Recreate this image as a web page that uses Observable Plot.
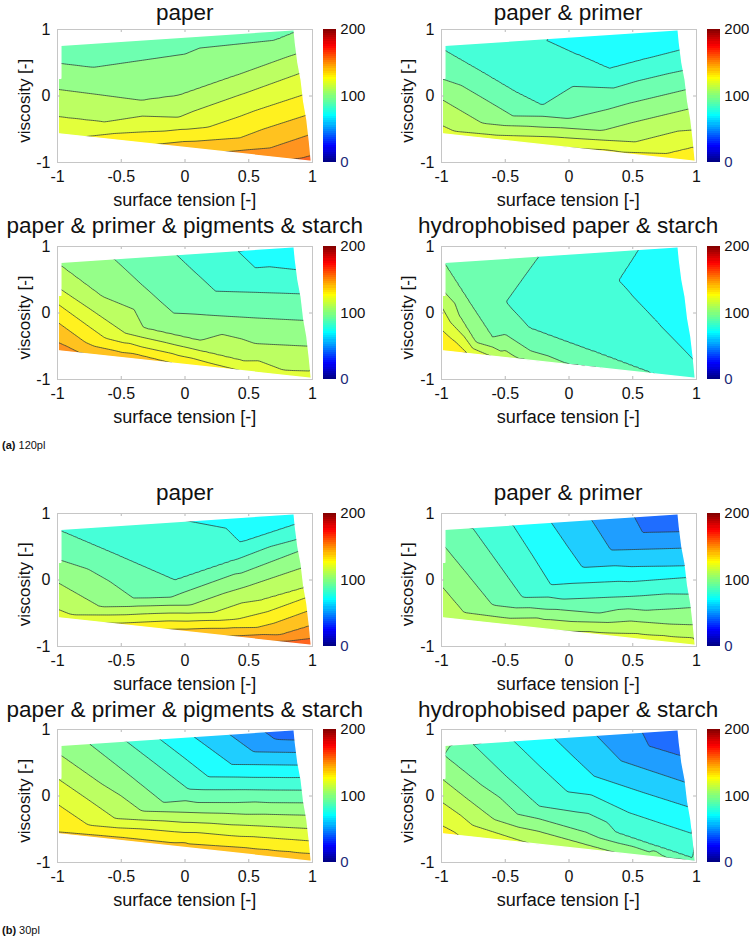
<!DOCTYPE html>
<html><head><meta charset="utf-8">
<script src="https://cdn.jsdelivr.net/npm/d3@7"></script>
<script src="https://cdn.jsdelivr.net/npm/@observablehq/plot@0.6"></script>
<style>
body{margin:0;background:#fff;font-family:"Liberation Sans",Arial,sans-serif}
#fig{position:relative;width:749px;height:936px;overflow:hidden;background:#fff}
#fig svg{position:absolute;overflow:visible}
</style></head><body><div id="fig"></div>
<script>
// ---------------- data ----------------
const xTicks = [-1, -0.5, 0, 0.5, 1];
const yTicks = [-1, 0, 1];
const cbTicks = [0, 100, 200];
const titles = ["paper", "paper & primer", "paper & primer & pigments & starch", "hydrophobised paper & starch"];
const xLabel = "surface tension [-]";
const yLabel = "viscosity [-]";
const captions = [["(a)", " 120pl"], ["(b)", " 30pl"]];
const fillLevels = [0,10,20,30,40,50,60,70,80,90,100,110,120,130,140,150,160,170,180,190,200];
// colour bar: navy, blue, cyan, yellow, red, dark red
const cmapStops = [0, 24, 70, 127, 175, 200];
const cmapColors = ["#00007f", "#0000ff", "#00ffff", "#ffff00", "#ff0000", "#7f0000"];

// boundary of the measured region (surface tension, viscosity)
const hullTop = [[-0.97, 0.755], [0.86, 0.99]];
const hullBottom = [[-0.99, -0.575], [0.995, -0.99]];
const hullLeft = [[-0.99, -0.575], [-0.99, 0.26], [-0.97, 0.26], [-0.97, 0.755]];
const hullRight = [[0.86, 0.99], [0.87, 0.79], [0.89, 0.49], [0.915, 0.24], [0.935, -0.09], [0.96, -0.36], [0.98, -0.69], [0.995, -0.99]];

// contour lines [level, [[surface tension, viscosity], ...]] and boundary / interior values [x, y, value]
const a1Lines = [
  [100, [[-0.98,0.49],[-0.72,0.43],[0,0.63],[0.71,0.84],[0.87,0.965]]],
  [110, [[-1.0,0.10],[-0.34,-0.065],[-0.05,0.01],[0.4,0.31],[0.885,0.64]]],
  [120, [[-1.0,-0.31],[-0.63,-0.39],[-0.05,-0.32],[0.42,0.01],[0.9,0.34]]],
  [130, [[-0.85,-0.625],[-0.33,-0.54],[0.18,-0.47],[0.55,-0.22],[0.915,0.01]]],
  [140, [[-0.27,-0.735],[0.08,-0.68],[0.43,-0.63],[0.95,-0.29]]],
  [150, [[0.29,-0.845],[0.48,-0.81],[0.67,-0.78],[0.965,-0.59]]],
  [160, [[0.81,-0.96],[0.9,-0.94],[1.0,-0.89]]]
];
const a1Edge = [[-0.98,0.76,94],[0,0.885,96],[0.86,1.0,99.5],[-1.0,-0.58,128],[-0.5,-0.685,137],[0,-0.785,145.5],[0.5,-0.89,154],[1.0,-1.0,164]];

const a2Lines = [
  [80, [[-0.195,0.855],[0.06,0.63],[0.315,0.414],[0.6,0.56],[0.885,0.70]]],
  [90, [[-0.98,0.69],[-0.69,0.37],[-0.42,0.063],[-0.21,-0.14],[0.35,0.12],[0.91,0.39]]],
  [100, [[-1.0,0.26],[-0.44,-0.30],[0,-0.34],[0.47,-0.11],[0.95,0.11]]],
  [110, [[-1.0,-0.05],[-0.68,-0.41],[-0.2,-0.47],[0.26,-0.52],[0.95,-0.19]]],
  [120, [[-1.0,-0.44],[-0.9,-0.53],[-0.2,-0.61],[0.52,-0.69],[0.98,-0.51]]],
  [130, [[-0.17,-0.755],[0.3,-0.81],[0.76,-0.865],[0.99,-0.76]]]
];
const a2Edge = [[-0.98,0.76,89.5],[-0.6,0.805,85],[0.3,0.925,73],[0.86,1.0,72],[0.88,0.79,77],[-1.0,-0.58,124],[-0.6,-0.662,125],[0.4,-0.875,132],[1.0,-1.0,136],[0.5,0.75,75]];

const a3Lines = [
  [80, [[0.406,0.945],[0.551,0.679],[0.885,0.649]]],
  [90, [[-0.077,0.895],[0.08,0.61],[0.237,0.328],[0.57,0.31],[0.92,0.288]]],
  [100, [[-0.561,0.82],[-0.33,0.41],[-0.09,-0.003],[0.17,-0.03],[0.43,-0.06],[0.95,-0.113]]],
  [110, [[-0.975,0.714],[-0.65,0.25],[-0.325,-0.223],[-0.1,-0.32],[0.119,-0.414],[0.55,-0.46],[0.965,-0.499]]],
  [120, [[-1.0,0.388],[-0.73,0.04],[-0.469,-0.303],[-0.16,-0.44],[0.15,-0.58],[0.46,-0.72],[0.773,-0.86],[0.98,-0.875]]],
  [130, [[-1.0,0.138],[-0.626,-0.378],[-0.34,-0.51],[-0.05,-0.64],[0.24,-0.775],[0.525,-0.91]]],
  [140, [[-1.0,-0.138],[-0.783,-0.439],[-0.40,-0.61],[-0.038,-0.78]]],
  [150, [[-1.0,-0.439],[-0.913,-0.514],[-0.8,-0.62]]]
];
const a3Edge = [[-0.98,0.76,108],[-0.3,0.845,95],[0.2,0.905,84],[0.86,1.0,74],[0.88,0.79,77],[0.7,0.85,76],[-1.0,-0.58,156],[-0.5,-0.68,146],[0.2,-0.83,135],[0.6,-0.925,128],[1.0,-1.0,125]];

const a4Lines = [
  [80, [[0.55,0.97],[0.47,0.73],[0.388,0.489],[0.53,0.19],[0.68,-0.115],[0.84,-0.44],[0.99,-0.739]]],
  [90, [[-0.234,0.855],[-0.365,0.51],[-0.495,0.163],[-0.312,-0.223],[-0.07,-0.395],[0.18,-0.57],[0.424,-0.745],[0.668,-0.92]]],
  [100, [[-0.975,0.739],[-0.79,0.19],[-0.6,-0.363],[-0.3,-0.57],[0.0,-0.774],[0.341,-0.858]]],
  [110, [[-1.0,0.363],[-0.86,-0.04],[-0.731,-0.439],[-0.365,-0.71]]],
  [120, [[-1.0,0.098],[-0.82,-0.36],[-0.6,-0.66]]],
  [130, [[-1.0,-0.238],[-0.887,-0.439],[-0.78,-0.625]]]
];
const a4Edge = [[-0.98,0.76,99],[-0.6,0.805,95],[0.15,0.9,85],[0.86,1.0,75],[0.92,0.24,77],[0.97,-0.36,79],[1.0,-1.0,82],[0.8,-0.955,87],[0.5,-0.89,95],[-0.2,-0.745,104],[-0.5,-0.682,115],[-1.0,-0.58,133],
  [-0.3,0.25,87.5],[0.05,0.3,85],[0.0,-0.2,87.5],[0.3,-0.3,86],[0.25,0.6,82.3],[0.7,0.4,78.3],[0.6,0.6,79],[0.7,0.2,79],[-0.65,0.5,95],[-0.5,-0.2,95]];

const b1Lines = [
  [80, [[0.001,0.895],[0.433,0.564],[0.87,0.84]]],
  [90, [[-0.975,0.739],[-0.52,0.367],[-0.077,-0.003],[0.4,0.306],[0.885,0.614]]],
  [100, [[-1.0,0.313],[-0.404,-0.273],[-0.116,-0.263],[0.39,0.09],[0.9,0.439]]],
  [110, [[-1.0,-0.038],[-0.665,-0.404],[-0.31,-0.39],[0.041,-0.379],[0.48,-0.10],[0.925,0.188]]],
  [120, [[-1.0,-0.439],[-0.888,-0.524],[-0.33,-0.51],[0.223,-0.489],[0.6,-0.30],[0.94,-0.113]]],
  [130, [[-0.665,-0.648],[-0.13,-0.615],[0.41,-0.589],[0.953,-0.263]]],
  [140, [[-0.22,-0.745],[0.17,-0.727],[0.563,-0.714],[0.966,-0.464]]],
  [150, [[0.354,-0.845],[0.746,-0.825],[0.98,-0.689]]],
  [160, [[0.66,-0.925],[0.825,-0.915],[0.98,-0.88]]]
];
const b1Edge = [[-0.98,0.76,89.5],[-0.5,0.825,85],[0.3,0.92,77],[0.86,1.0,76],[-1.0,-0.58,124],[-0.5,-0.685,133],[0,-0.787,144],[1.0,-1.0,166]];

const b2Lines = [
  [50, [[0.498,0.995],[0.576,0.714],[0.885,0.729]]],
  [60, [[0.171,0.92],[0.328,0.449],[0.61,0.464],[0.9,0.479]]],
  [70, [[-0.142,0.87],[-0.02,0.53],[0.106,0.188],[0.5,0.20],[0.913,0.213]]],
  [80, [[-0.443,0.835],[-0.29,0.38],[-0.142,-0.073],[0.39,-0.02],[0.926,0.038]]],
  [90, [[-0.757,0.785],[-0.56,0.26],[-0.365,-0.263],[-0.051,-0.288],[0.45,-0.25],[0.952,-0.213]]],
  [100, [[-0.98,0.514],[-0.79,0.07],[-0.6,-0.378],[-0.18,-0.44],[0.237,-0.499],[0.6,-0.456],[0.965,-0.414]]],
  [110, [[-1.0,-0.088],[-0.822,-0.489],[-0.25,-0.57],[0.315,-0.639],[0.979,-0.674]]],
  [120, [[-0.2,-0.75],[0.5,-0.8],[0.98,-0.87]]]
];
const b2Edge = [[-0.98,0.76,95],[0.0,0.885,66],[0.86,1.0,44],[0.88,0.79,47],[-1.0,-0.58,116],[-0.5,-0.685,117],[1.0,-1.0,123]];

const b3Lines = [
  [50, [[0.603,0.995],[0.707,0.85],[0.87,0.84]]],
  [60, [[0.354,0.92],[0.537,0.664],[0.885,0.654]]],
  [70, [[0.067,0.895],[0.367,0.474],[0.63,0.47],[0.9,0.464]]],
  [80, [[-0.208,0.87],[-0.01,0.58],[0.184,0.288],[0.55,0.28],[0.913,0.278]]],
  [90, [[-0.469,0.835],[-0.22,0.47],[0.027,0.103],[0.47,0.095],[0.7,0.09],[0.926,0.088]]],
  [100, [[-0.757,0.795],[-0.46,0.35],[-0.169,-0.098],[0.1,-0.099],[0.38,-0.10],[0.66,-0.10],[0.939,-0.103]]],
  [110, [[-0.975,0.614],[-0.66,0.19],[-0.339,-0.228],[-0.02,-0.244],[0.3,-0.26],[0.63,-0.274],[0.953,-0.288]]],
  [120, [[-1.0,0.263],[-0.77,-0.04],[-0.548,-0.338],[-0.17,-0.374],[0.2,-0.41],[0.58,-0.45],[0.965,-0.489]]],
  [130, [[-1.0,-0.123],[-0.757,-0.439],[-0.33,-0.495],[0.1,-0.55],[0.54,-0.612],[0.979,-0.674]]],
  [140, [[-1.0,-0.539],[-0.5,-0.62],[0,-0.70],[0.5,-0.78],[0.99,-0.865]]]
];
const b3Edge = [[-0.98,0.76,105],[0.86,1.0,44],[0.88,0.79,52],[-1.0,-0.58,143],[0,-0.787,144],[1.0,-1.0,144]];

const b4Lines = [
  [50, [[0.563,0.995],[0.627,0.749],[0.885,0.599]]],
  [60, [[0.197,0.945],[0.407,0.529],[0.67,0.36],[0.939,0.188]]],
  [70, [[-0.129,0.895],[0.03,0.6],[0.197,0.298],[0.57,0.06],[0.952,-0.173]]],
  [80, [[-0.443,0.845],[-0.23,0.45],[-0.012,0.063],[0.47,-0.25],[0.72,-0.41],[0.965,-0.564]]],
  [90, [[-0.757,0.785],[-0.5,0.31],[-0.234,-0.153],[0.37,-0.548],[0.67,-0.744],[0.975,-0.94]]],
  [100, [[-0.98,0.614],[-0.69,0.17],[-0.404,-0.273],[0.13,-0.543],[0.668,-0.815],[0.99,-0.978]]],
  [110, [[-1.0,0.263],[-0.8,-0.04],[-0.587,-0.353],[-0.24,-0.53],[0.106,-0.714],[0.395,-0.865]]],
  [120, [[-1.0,-0.088],[-0.757,-0.439],[-0.391,-0.664],[-0.3,-0.722]]],
  [130, [[-1.0,-0.439],[-0.9,-0.539],[-0.85,-0.607]]]
];
const b4Edge = [[-0.98,0.76,103],[0.86,1.0,43],[-1.0,-0.58,133],[1.0,-1.0,101],[0.6,-0.91,107]];

const panels = [
  {title: 0, col: 0, row: 0, lines: a1Lines, edge: a1Edge},
  {title: 1, col: 1, row: 0, lines: a2Lines, edge: a2Edge},
  {title: 2, col: 0, row: 1, lines: a3Lines, edge: a3Edge},
  {title: 3, col: 1, row: 1, lines: a4Lines, edge: a4Edge},
  {title: 0, col: 0, row: 2, lines: b1Lines, edge: b1Edge},
  {title: 1, col: 1, row: 2, lines: b2Lines, edge: b2Edge},
  {title: 2, col: 0, row: 3, lines: b3Lines, edge: b3Edge},
  {title: 3, col: 1, row: 3, lines: b4Lines, edge: b4Edge}
];

// ---------------- layout ----------------
const FONT = "'Liberation Sans', Arial, Helvetica, sans-serif";
const frameLeft = [57.3, 440.7];
const frameTop = [29.3, 246, 512.7, 729.3];
const frameW = 255, frameH = 133;
const cbGap = 11, cbW = 13.4;
const captionY = [449, 934];
const EPS = 1e-6;

const fillColors = cmapColors.map(c => d3.interpolateRgb(c, "#ffffff")(0.12));
const panelColor = {type: "linear", domain: cmapStops, range: fillColors, interpolate: "rgb"};
const barColor = {type: "linear", domain: cmapStops, range: cmapColors, interpolate: "rgb"};
const fig = d3.select("#fig");

function ext(a, b, x) { return a[1] + (b[1] - a[1]) * (x - a[0]) / (b[0] - a[0]); }
const topMask = [[-1.3, ext(hullTop[0], hullTop[1], -1.3)], [1.3, ext(hullTop[0], hullTop[1], 1.3)]];
const botMask = [[-1.3, ext(hullBottom[0], hullBottom[1], -1.3)], [1.3, ext(hullBottom[0], hullBottom[1], 1.3)]];
const leftMask = [[hullLeft[0][0], -1.3], ...hullLeft, [hullLeft[hullLeft.length - 1][0], 1.3]];
const rightMask = [[hullRight[0][0], 1.3], ...hullRight, [hullRight[hullRight.length - 1][0], -1.3]];
const maskStyle = {fill: "white", stroke: "white", strokeWidth: 1.4, clip: true};

const ML = 57, MT = 6, MR = 8, MB = 30;

for (const p of panels) {
  const pts = [];
  for (const [lev, line] of p.lines) for (const [x, y] of line) pts.push([x, y, lev]);
  for (const e of p.edge) pts.push(e);
  const fl = frameLeft[p.col], ft = frameTop[p.row];
  const chart = Plot.plot({
    width: ML + frameW + MR, height: MT + frameH + MB,
    marginLeft: ML, marginTop: MT, marginRight: MR, marginBottom: MB,
    style: {fontFamily: FONT, fontSize: "16px", background: "transparent", color: "#111"},
    x: {domain: [-1, 1], ticks: xTicks, tickFormat: d => String(d), tickSize: 0, tickPadding: 8.6, label: null},
    y: {domain: [-1, 1], ticks: yTicks, tickFormat: d => String(d), tickSize: 0, tickPadding: 7, label: null},
    color: panelColor,
    marks: [
      Plot.contour(pts, {x: d => d[0], y: d => d[1], fill: d => d[2], thresholds: fillLevels.map(t => t - EPS), interpolate: "barycentric", stroke: "none", clip: true}),
      Plot.contour(pts, {x: d => d[0], y: d => d[1], value: d => d[2], thresholds: p.lines.map(l => l[0] - EPS), interpolate: "barycentric", fill: "none", stroke: "#2b3838", strokeWidth: 0.75, clip: true}),
      Plot.areaY(topMask, {x: d => d[0], y1: d => d[1], y2: 1.3, ...maskStyle}),
      Plot.areaY(botMask, {x: d => d[0], y1: -1.3, y2: d => d[1], ...maskStyle}),
      Plot.areaX(leftMask, {y: d => d[1], x1: -1.3, x2: d => d[0], ...maskStyle}),
      Plot.areaX(rightMask, {y: d => d[1], x1: d => d[0], x2: 1.3, ...maskStyle}),
      Plot.ruleX(xTicks, {y1: -1, y2: -0.955, stroke: "#b8b8b8"}),
      Plot.ruleX(xTicks, {y1: 0.955, y2: 1, stroke: "#b8b8b8"}),
      Plot.ruleY(yTicks, {x1: -1, x2: -0.977, stroke: "#b8b8b8"}),
      Plot.ruleY(yTicks, {x1: 0.977, x2: 1, stroke: "#b8b8b8"}),
      Plot.frame({stroke: "#c6c6c6"})
    ]
  });
  d3.select(chart).style("left", (fl - ML) + "px").style("top", (ft - MT) + "px");
  fig.node().appendChild(chart);

  // colorbar
  const bands = d3.range(64);
  const cb = Plot.plot({
    width: cbW + 40, height: frameH + 12,
    marginTop: 6, marginBottom: 6, marginLeft: 0, marginRight: 40,
    style: {fontFamily: FONT, background: "transparent"},
    x: {domain: [0, 1], axis: null},
    y: {domain: [0, 200], axis: null},
    color: barColor,
    marks: [
      Plot.rect(bands, {x1: 0, x2: 1, y1: d => d * 200 / 64, y2: d => (d + 1) * 200 / 64, fill: d => (d + 0.5) * 200 / 64, shapeRendering: "crispEdges"}),
      Plot.text(cbTicks.filter(t => t > 0), {x: 1, y: d => d, text: d => String(d), textAnchor: "start", dx: 3.4, fontSize: 15, fill: "#111"}),
      Plot.text(cbTicks.filter(t => t === 0), {x: 1, y: d => d, text: d => String(d), textAnchor: "start", dx: 3.4, fontSize: 15, fill: "#1d2a78"})
    ]
  });
  d3.select(cb).style("left", (fl + frameW + cbGap) + "px").style("top", (ft - 6) + "px");
  fig.node().appendChild(cb);
}

// text overlay: titles, axis labels, captions
const ov = fig.append("svg").attr("width", 749).attr("height", 936)
  .style("left", "0px").style("top", "0px").style("pointer-events", "none")
  .style("font-family", FONT).attr("fill", "#111");
for (const p of panels) {
  const fl = frameLeft[p.col], ft = frameTop[p.row];
  const cx = fl + frameW / 2;
  ov.append("text").attr("x", cx).attr("y", Math.max(ft - 12.7, 20.3)).attr("text-anchor", "middle")
    .attr("font-size", 22.5).text(titles[p.title]);
  ov.append("text").attr("x", cx).attr("y", ft + frameH + 44).attr("text-anchor", "middle")
    .attr("font-size", 18).text(xLabel);
  ov.append("text").attr("transform", `translate(${fl - 27.6},${ft + frameH / 2 + 5}) rotate(-90)`)
    .attr("text-anchor", "middle").attr("font-size", 17).text(yLabel);
}
captions.forEach((c, i) => {
  const t = ov.append("text").attr("x", 2).attr("y", captionY[i]).attr("font-size", 11);
  t.append("tspan").attr("font-weight", "bold").text(c[0]);
  t.append("tspan").text(c[1]);
});
</script></body></html>
